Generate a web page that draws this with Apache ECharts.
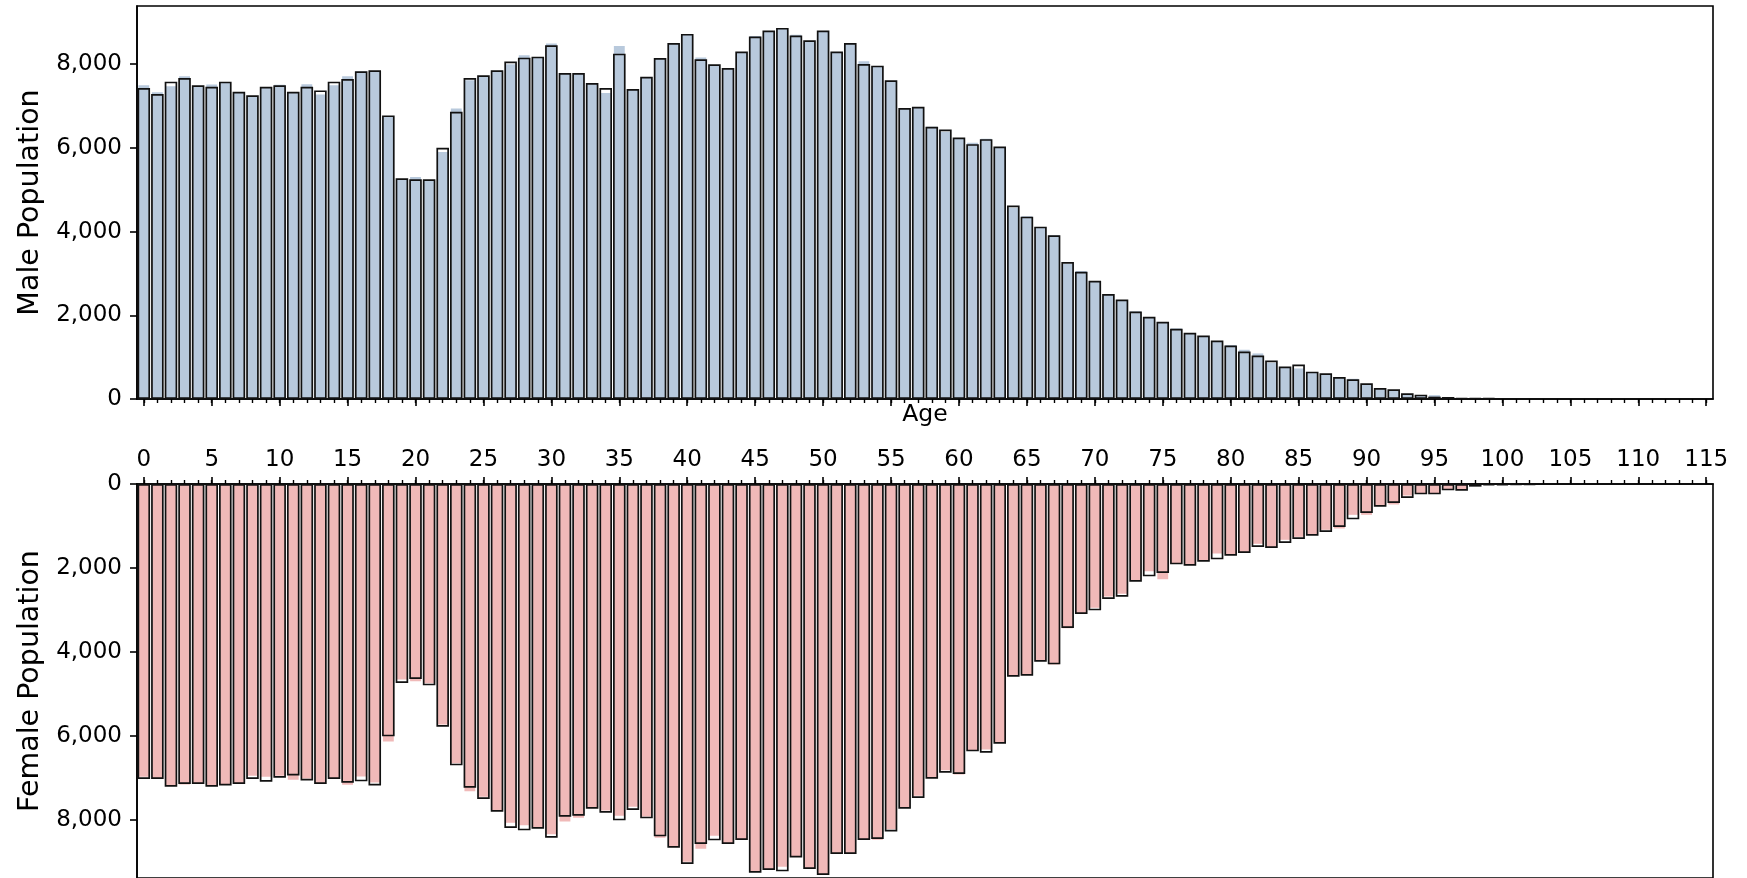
<!DOCTYPE html>
<html>
<head>
<meta charset="utf-8">
<script src="https://cdn.jsdelivr.net/npm/echarts@6/dist/echarts.min.js"></script>
<style>
html,body{margin:0;padding:0;background:#fff;}
#chart{width:1747px;height:878px;}
</style>
</head>
<body>
<div id="chart"></div>
<script>
// Age categories (x axis)
const ages = [
  0,1,2,3,4,5,6,7,8,9,10,11,12,13,14,15,16,17,18,19,
  20,21,22,23,24,25,26,27,28,29,30,31,32,33,34,35,36,37,38,39,
  40,41,42,43,44,45,46,47,48,49,50,51,52,53,54,55,56,57,58,59,
  60,61,62,63,64,65,66,67,68,69,70,71,72,73,74,75,76,77,78,79,
  80,81,82,83,84,85,86,87,88,89,90,91,92,93,94,95,96,97,98,99,
  100,101,102,103,104,105,106,107,108,109,110,111,112,113,114,115
];

// Male population: filled bars
const maleFilled = [
  7518,7350,7494,7733,7494,7534,7582,7342,7255,7462,
  7526,7342,7542,7294,7518,7733,7845,7853,6776,5275,
  5323,5251,5922,6959,7638,7733,7853,8021,8236,8180,
  8515,7789,7789,7550,7334,8452,7406,7701,8149,8507,
  8723,8180,7997,7909,8300,8691,8803,8867,8723,8571,
  8803,8300,8507,8093,7965,7614,6951,6983,6528,6408,
  6249,6145,6241,6033,4589,4389,4118,3935,3248,3081,
  2825,2530,2378,2115,1963,1843,1708,1580,1516,1397,
  1309,1197,1109,886,774,750,654,615,527,503,
  375,263,231,136,104,112,48,24,24,24
];

// Male population: outlined bars
const maleOutline = [
  7430,7287,7582,7670,7494,7462,7582,7342,7255,7462,
  7494,7342,7462,7374,7582,7646,7829,7853,6776,5275,
  5251,5251,6001,6864,7670,7733,7853,8061,8156,8180,
  8452,7789,7789,7550,7430,8252,7406,7701,8149,8507,
  8723,8116,7997,7909,8300,8659,8803,8867,8683,8571,
  8803,8300,8507,8005,7965,7614,6951,6983,6504,6440,
  6249,6089,6209,6033,4621,4357,4118,3911,3272,3041,
  2825,2506,2378,2091,1963,1843,1676,1580,1516,1397,
  1277,1133,1038,918,774,822,654,615,527,471,
  375,263,231,136,104,56,48,24,24,24
];

// Female population: filled bars
const femaleFilled = [
  6992,7024,7206,7175,7143,7190,7175,7143,6968,6992,
  6968,7063,7032,7143,7024,7183,6984,7127,6151,4675,
  4714,4762,5746,6667,7333,7468,7802,8087,8143,8206,
  8357,8056,7968,7730,7794,7921,7706,7937,8444,8659,
  9016,8706,8397,8571,8476,9254,9190,9135,8889,9167,
  9310,8810,8810,8476,8492,8238,7730,7444,7016,6833,
  6937,6365,6341,6183,4587,4563,4230,4317,3452,3095,
  2968,2700,2635,2325,2095,2286,1913,1944,1849,1675,
  1706,1643,1444,1524,1349,1278,1230,1111,1079,754,
  754,540,508,294,246,246,151,159,63,32,
  32,24,24
];

// Female population: outlined bars
const femaleOutline = [
  7024,7024,7206,7143,7143,7206,7175,7143,7024,7087,
  6992,6937,7056,7143,7024,7111,7079,7175,6008,4738,
  4643,4794,5778,6698,7230,7500,7802,8190,8246,8206,
  8421,7921,7897,7730,7825,8008,7762,7960,8389,8659,
  9048,8571,8484,8571,8476,9254,9190,9222,8889,9167,
  9310,8810,8810,8476,8452,8270,7730,7476,7016,6873,
  6905,6365,6397,6183,4587,4563,4230,4294,3429,3095,
  3008,2738,2683,2325,2198,2119,1913,1944,1849,1794,
  1706,1643,1500,1524,1405,1310,1230,1143,1024,841,
  690,540,452,333,246,246,151,159,63,32,
  32,24,24
];

// Tick values for the population axes
const popTicks = [0, 2000, 4000, 6000, 8000];

const FONT = 'DejaVu Sans';
const BLACK = '#000';
const majorEvery = (i) => i % 5 === 0;
const fmt = (v) => Number(v).toLocaleString('en-US');

function catAxis(gridIndex, position, extra) {
  return Object.assign({
    type: 'category',
    gridIndex: gridIndex,
    position: position,
    data: ages,
    boundaryGap: true,
    axisLine: { show: true, onZero: false, lineStyle: { color: BLACK, width: 1.6 } },
    splitLine: { show: false },
    axisLabel: { show: false }
  }, extra);
}

function popAxis(gridIndex, max, inverse, name) {
  return {
    type: 'value',
    gridIndex: gridIndex,
    min: 0,
    max: max,
    interval: 2000,
    inverse: inverse,
    position: 'left',
    axisLine: { show: true, lineStyle: { color: BLACK, width: 1.6 } },
    axisTick: { show: true, length: 7, lineStyle: { color: BLACK, width: 1.6 }, customValues: popTicks },
    axisLabel: { show: true, fontSize: 23, fontFamily: FONT, color: BLACK, margin: 15,
                 formatter: fmt, customValues: popTicks },
    splitLine: { show: false },
    name: name,
    nameLocation: 'middle',
    nameRotate: 90,
    nameGap: 90,
    nameTextStyle: { fontSize: 28.5, fontFamily: FONT, color: BLACK }
  };
}

const option = {
  animation: false,
  backgroundColor: '#fff',
  textStyle: { fontFamily: FONT },
  grid: [
    { left: 137, right: 34, top: 6, height: 393, show: true, borderColor: BLACK, borderWidth: 1.6, containLabel: false },
    { left: 137, right: 34, top: 484, height: 394, show: true, borderColor: BLACK, borderWidth: 1.6, containLabel: false }
  ],
  xAxis: [
    catAxis(0, 'bottom', {
      axisTick: { show: true, interval: 0, alignWithLabel: true, length: 4, lineStyle: { color: BLACK, width: 1.4 } },
      name: 'Age', nameLocation: 'middle', nameGap: 4,
      nameTextStyle: { fontSize: 23.5, fontFamily: FONT, color: BLACK }
    }),
    catAxis(0, 'bottom', {
      axisLine: { show: false },
      axisTick: { show: true, interval: majorEvery, alignWithLabel: true, length: 7, lineStyle: { color: BLACK, width: 1.6 } }
    }),
    catAxis(1, 'top', {
      axisTick: { show: true, interval: 0, alignWithLabel: true, length: 4, lineStyle: { color: BLACK, width: 1.4 } }
    }),
    catAxis(1, 'top', {
      axisLine: { show: false },
      axisTick: { show: true, interval: majorEvery, alignWithLabel: true, length: 7, lineStyle: { color: BLACK, width: 1.6 } },
      axisLabel: { show: true, interval: majorEvery, fontSize: 23, fontFamily: FONT, color: BLACK, margin: 12 }
    })
  ],
  yAxis: [
    popAxis(0, 9390, false, 'Male Population'),
    popAxis(1, 9380, true, 'Female Population')
  ],
  series: [
    {
      type: 'bar', xAxisIndex: 0, yAxisIndex: 0, data: maleFilled,
      barWidth: '92.5%', barGap: '-100%', silent: true,
      itemStyle: { color: '#b8c9dc', borderColor: 'rgba(0,0,0,0)', borderWidth: 1.7 }
    },
    {
      type: 'bar', xAxisIndex: 0, yAxisIndex: 0, data: maleOutline,
      barWidth: '92.5%', barGap: '-100%', silent: true,
      itemStyle: { color: 'rgba(0,0,0,0)', borderColor: '#111', borderWidth: 1.7 }
    },
    {
      type: 'bar', xAxisIndex: 2, yAxisIndex: 1, data: femaleFilled,
      barWidth: '92.5%', barGap: '-100%', silent: true,
      itemStyle: { color: '#f0b9b8', borderColor: 'rgba(0,0,0,0)', borderWidth: 1.7 }
    },
    {
      type: 'bar', xAxisIndex: 2, yAxisIndex: 1, data: femaleOutline,
      barWidth: '92.5%', barGap: '-100%', silent: true,
      itemStyle: { color: 'rgba(0,0,0,0)', borderColor: '#111', borderWidth: 1.7 }
    }
  ]
};

const chart = echarts.init(document.getElementById('chart'), null, { renderer: 'canvas', devicePixelRatio: 1 });
chart.setOption(option);
</script>
</body>
</html>
